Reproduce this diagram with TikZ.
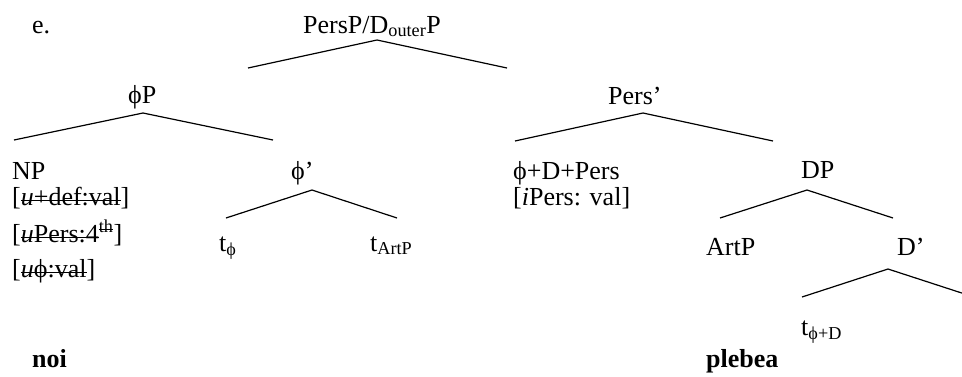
\documentclass[tikz,border=0pt]{standalone}
\usepackage{fontspec}
\setmainfont{Liberation Serif}
\newcommand\mystrike[1]{\setbox0=\hbox{#1}\rlap{\rule[0.3ex]{\wd0}{0.06em}}\box0}
\begin{document}
\begin{tikzpicture}[x=1pt,y=-1pt,
  lbl/.style={anchor=base west, inner sep=0pt, font=\fontsize{26}{30}\selectfont},
  branch/.style={line width=1.2pt}]
\useasboundingbox (0,0) rectangle (962,376);
\clip (0,0) rectangle (962,376);
% labels
\node[lbl] (e) at (32,33) {e.};
\node[lbl] (root) at (303,33) {PersP/D\textsubscript{outer}P};
\node[lbl] (phiP) at (128,103) {ϕP};
\node[lbl] (persbar) at (608,104) {Pers’};
\node[lbl] (NP) at (12,179) {NP};
\node[lbl] (f1) at (12,205) {[\mystrike{\textit{u}+def:val}]};
\node[lbl] (f2) at (12,242) {[\mystrike{\textit{u}Pers:4}\textsuperscript{\mystrike{th}}]};
\node[lbl] (f3) at (12,277) {[\mystrike{\textit{u}ϕ:val}]};
\node[lbl] (phibar) at (291,179) {ϕ’};
\node[lbl] (head) at (513,179) {ϕ+D+Pers};
\node[lbl] (f4) at (513,205) {[\textit{i}Pers: val]};
\node[lbl] (DP) at (801,178) {DP};
\node[lbl] (tphi) at (219,251) {t\textsubscript{ϕ}};
\node[lbl] (tArtP) at (370,251) {t\textsubscript{ArtP}};
\node[lbl] (ArtP) at (706,255) {ArtP};
\node[lbl] (Dbar) at (897,255) {D’};
\node[lbl] (tphiD) at (801,335) {t\textsubscript{ϕ+D}};
\node[lbl] (noi) at (32,367) {\textbf{noi}};
\node[lbl] (plebea) at (706,367) {\textbf{plebea}};
% branch points
\coordinate (a0) at (377,40);  \coordinate (l0) at (248,68);  \coordinate (r0) at (507,68);
\coordinate (a1) at (143,113); \coordinate (l1) at (14,140);  \coordinate (r1) at (273,140);
\coordinate (a2) at (643,113); \coordinate (l2) at (515,141); \coordinate (r2) at (773,141);
\coordinate (a3) at (312,190); \coordinate (l3) at (226,218); \coordinate (r3) at (397,218);
\coordinate (a4) at (807,190); \coordinate (l4) at (720,218); \coordinate (r4) at (893,218);
\coordinate (a5) at (888,269); \coordinate (l5) at (802,297); \coordinate (r5) at (974,297);
\draw[branch] (l0) -- (a0) -- (r0);
\draw[branch] (l1) -- (a1) -- (r1);
\draw[branch] (l2) -- (a2) -- (r2);
\draw[branch] (l3) -- (a3) -- (r3);
\draw[branch] (l4) -- (a4) -- (r4);
\draw[branch] (l5) -- (a5) -- (r5);
\end{tikzpicture}
\end{document}
